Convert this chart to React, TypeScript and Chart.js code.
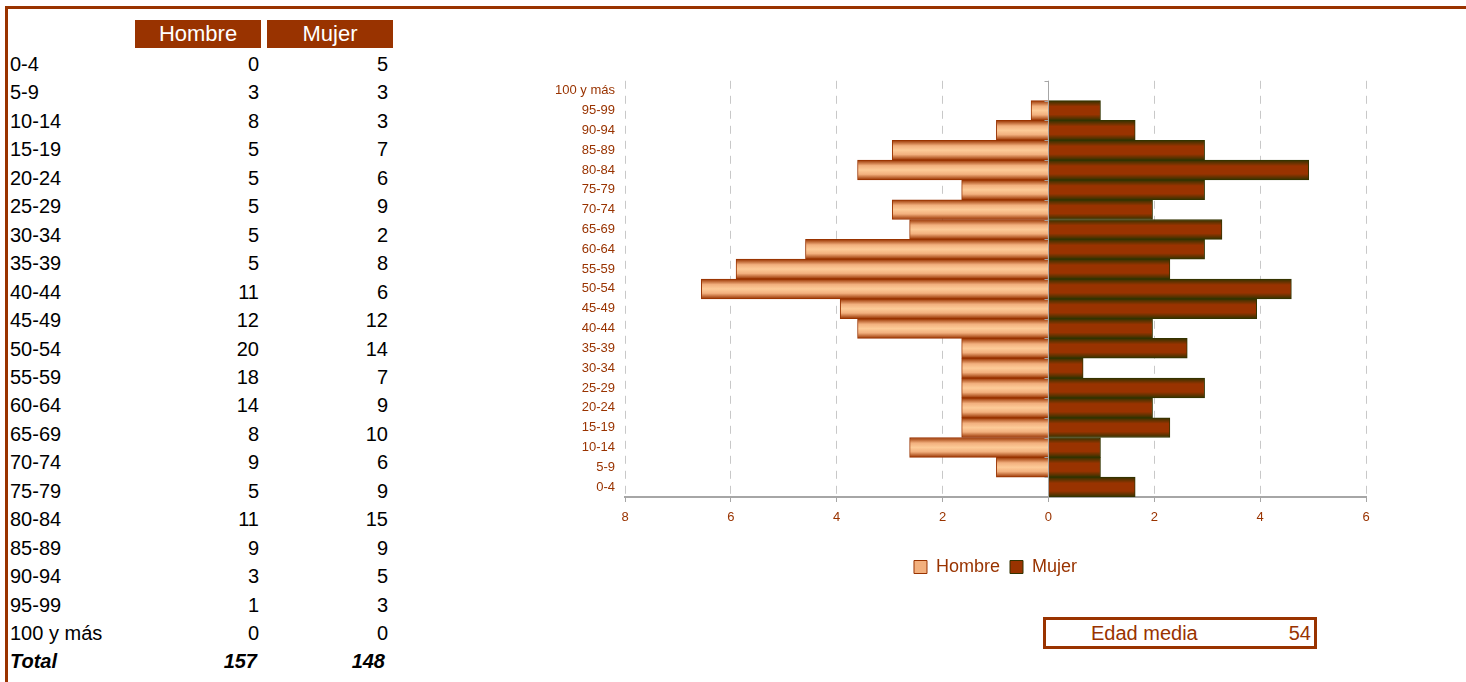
import React, { useEffect, useRef } from "react";
import { Chart, registerables } from "chart.js";

Chart.register(...registerables);

// ---------- data ----------
const ageGroups = [
  "0-4", "5-9", "10-14", "15-19", "20-24", "25-29", "30-34", "35-39", "40-44", "45-49",
  "50-54", "55-59", "60-64", "65-69", "70-74", "75-79", "80-84", "85-89", "90-94", "95-99", "100 y más",
];
const hombre = [0, 3, 8, 5, 5, 5, 5, 5, 11, 12, 20, 18, 14, 8, 9, 5, 11, 9, 3, 1, 0];
const mujer = [5, 3, 3, 7, 6, 9, 2, 8, 6, 12, 14, 7, 9, 10, 6, 9, 15, 9, 5, 3, 0];
const seriesNames = ["Hombre", "Mujer"];
const totalLabel = "Total";
const totalHombre = 157;
const totalMujer = 148;
const edadMediaLabel = "Edad media";
const edadMedia = 54;
const xMin = -8;
const xMax = 6;
const xStep = 2;

// ---------- styles ----------
const BROWN = "#993300";
const DARK = "#333300";
const FONT = "'Liberation Sans', Arial, Helvetica, sans-serif";
const hombreStops: [number, string][] = [
  [0, "#993300"],
  [0.28, "#F2B07E"],
  [0.5, "#FDCB98"],
  [0.72, "#F2B07E"],
  [1, "#993300"],
];
const mujerStops: [number, string][] = [
  [0, "#333300"],
  [0.3, "#993300"],
  [0.7, "#993300"],
  [1, "#333300"],
];

function bandGradient(ctx: any, stops: [number, string][], fallback: string) {
  const chart = ctx.chart;
  const y = chart && chart.scales ? chart.scales.y : null;
  if (!chart || !chart.chartArea || !y || ctx.dataIndex === undefined || ctx.type !== "data") return fallback;
  const c = y.getPixelForValue(ctx.dataIndex);
  const band = Math.abs(y.getPixelForValue(1) - y.getPixelForValue(0));
  const g = chart.ctx.createLinearGradient(0, c - band / 2, 0, c + band / 2);
  stops.forEach(([o, col]) => g.addColorStop(o, col));
  return g;
}

const zeroLinePlugin = {
  id: "zeroLine",
  afterDatasetsDraw(chart: any) {
    const { ctx, chartArea, scales } = chart;
    const x = scales.x;
    const y = scales.y;
    const px = Math.round(x.getPixelForValue(0)) + 0.5;
    ctx.save();
    ctx.strokeStyle = "#A6A6A6";
    ctx.lineWidth = 1;
    ctx.beginPath();
    ctx.moveTo(px, chartArea.top);
    ctx.lineTo(px, chartArea.bottom);
    const band = Math.abs(y.getPixelForValue(1) - y.getPixelForValue(0));
    for (let i = 0; i < ageGroups.length; i++) {
      const yy = Math.round(y.getPixelForValue(i) - band / 2) + 0.5;
      ctx.moveTo(px - 4, yy);
      ctx.lineTo(px, yy);
    }
    ctx.stroke();
    ctx.restore();
  },
};

function PyramidChart() {
  const ref = useRef<HTMLCanvasElement | null>(null);
  useEffect(() => {
    if (!ref.current) return;
    const grand = totalHombre + totalMujer;
    const hombrePct = hombre.map((v) => -(v / grand) * 100);
    const mujerPct = mujer.map((v) => (v / grand) * 100);
    const chart = new Chart(ref.current, {
      type: "bar",
      data: {
        labels: ageGroups,
        datasets: [
          {
            label: seriesNames[0],
            data: hombrePct,
            backgroundColor: (c: any) => bandGradient(c, hombreStops, "#F2B07E"),
            borderColor: BROWN,
            borderWidth: 1,
            categoryPercentage: 1,
            barPercentage: 1,
          },
          {
            label: seriesNames[1],
            data: mujerPct,
            backgroundColor: (c: any) => bandGradient(c, mujerStops, BROWN),
            borderColor: DARK,
            borderWidth: 1,
            categoryPercentage: 1,
            barPercentage: 1,
          },
        ],
      },
      options: {
        indexAxis: "y",
        animation: false,
        responsive: false,
        maintainAspectRatio: false,
        events: [],
        layout: { padding: { top: 10, right: 20, bottom: 4, left: 0 } },
        scales: {
          x: {
            type: "linear",
            min: xMin,
            max: xMax,
            stacked: true,
            ticks: {
              stepSize: xStep,
              color: BROWN,
              font: { family: FONT, size: 13 },
              padding: 8,
              callback: (v: any) => String(Math.abs(Number(v))),
            },
            grid: {
              color: "#C8C8C8",
              lineWidth: 1,
              drawTicks: true,
              tickLength: 5,
              tickColor: "#A6A6A6",
              tickWidth: 1,
            },
            border: { display: true, color: "#A6A6A6", width: 2, dash: [8, 7] },
            afterFit: (s: any) => {
              s.height = 51;
            },
          },
          y: {
            type: "category",
            stacked: true,
            reverse: true,
            ticks: {
              color: BROWN,
              font: { family: FONT, size: 13 },
              padding: 10,
              autoSkip: false,
            },
            grid: { display: false, drawTicks: false },
            border: { display: false },
            afterFit: (s: any) => {
              s.width = 90;
            },
          },
        },
        plugins: {
          tooltip: { enabled: false },
          legend: {
            display: true,
            position: "bottom",
            fullSize: false,
            labels: {
              color: BROWN,
              font: { family: FONT, size: 18 },
              boxWidth: 13,
              boxHeight: 13,
              padding: 10,
              generateLabels: () => [
                { text: seriesNames[0], fillStyle: "#F2B07E", strokeStyle: BROWN, lineWidth: 1, datasetIndex: 0, fontColor: BROWN },
                { text: seriesNames[1], fillStyle: BROWN, strokeStyle: DARK, lineWidth: 1, datasetIndex: 1, fontColor: BROWN },
              ],
            },
          },
        },
      },
      plugins: [zeroLinePlugin],
    } as any);
    return () => chart.destroy();
  }, []);
  return (
    <canvas
      ref={ref}
      width={851}
      height={527}
      style={{ position: "absolute", left: 535, top: 63, width: 851, height: 527 }}
    />
  );
}

const ROW_TOP = 50;
const ROW_H = 28.45;

export default function App() {
  const cellBase: React.CSSProperties = {
    position: "absolute",
    height: ROW_H,
    lineHeight: `${ROW_H}px`,
    fontSize: 20,
    color: "#000",
    whiteSpace: "nowrap",
  };
  return (
    <div
      style={{
        position: "absolute",
        left: 0,
        top: 0,
        width: 1466,
        height: 682,
        overflow: "hidden",
        background: "#fff",
        fontFamily: FONT,
      }}
    >
      <div
        style={{
          position: "absolute",
          left: 5,
          top: 6,
          width: 1470,
          height: 700,
          borderTop: `3px solid ${BROWN}`,
          borderLeft: `3px solid ${BROWN}`,
          boxSizing: "border-box",
        }}
      />
      {/* header */}
      {[seriesNames[0], seriesNames[1]].map((n, i) => (
        <div
          key={n}
          style={{
            position: "absolute",
            left: i === 0 ? 135 : 267,
            top: 20,
            width: 126,
            height: 28,
            lineHeight: "28px",
            background: BROWN,
            color: "#fff",
            fontSize: 22,
            textAlign: "center",
          }}
        >
          {n}
        </div>
      ))}
      {ageGroups.map((g, i) => (
        <React.Fragment key={g}>
          <div style={{ ...cellBase, left: 10, top: ROW_TOP + ROW_H * i }}>{g}</div>
          <div style={{ ...cellBase, left: 135, width: 124, textAlign: "right", top: ROW_TOP + ROW_H * i }}>
            {hombre[i]}
          </div>
          <div style={{ ...cellBase, left: 267, width: 121, textAlign: "right", top: ROW_TOP + ROW_H * i }}>
            {mujer[i]}
          </div>
        </React.Fragment>
      ))}
      <div
        style={{ ...cellBase, left: 10, top: ROW_TOP + ROW_H * ageGroups.length, fontWeight: "bold", fontStyle: "italic" }}
      >
        {totalLabel}
      </div>
      <div
        style={{
          ...cellBase,
          left: 135,
          width: 122,
          textAlign: "right",
          top: ROW_TOP + ROW_H * ageGroups.length,
          fontWeight: "bold",
          fontStyle: "italic",
        }}
      >
        {totalHombre}
      </div>
      <div
        style={{
          ...cellBase,
          left: 267,
          width: 118,
          textAlign: "right",
          top: ROW_TOP + ROW_H * ageGroups.length,
          fontWeight: "bold",
          fontStyle: "italic",
        }}
      >
        {totalMujer}
      </div>
      <PyramidChart />
      {/* Edad media box */}
      <div
        style={{
          position: "absolute",
          left: 1043,
          top: 617,
          width: 274,
          height: 32,
          border: `3px solid ${BROWN}`,
          boxSizing: "border-box",
          color: BROWN,
          fontSize: 20,
          lineHeight: "26px",
        }}
      >
        <span style={{ position: "absolute", left: 45, top: 0 }}>{edadMediaLabel}</span>
        <span style={{ position: "absolute", right: 3, top: 0 }}>{edadMedia}</span>
      </div>
    </div>
  );
}
